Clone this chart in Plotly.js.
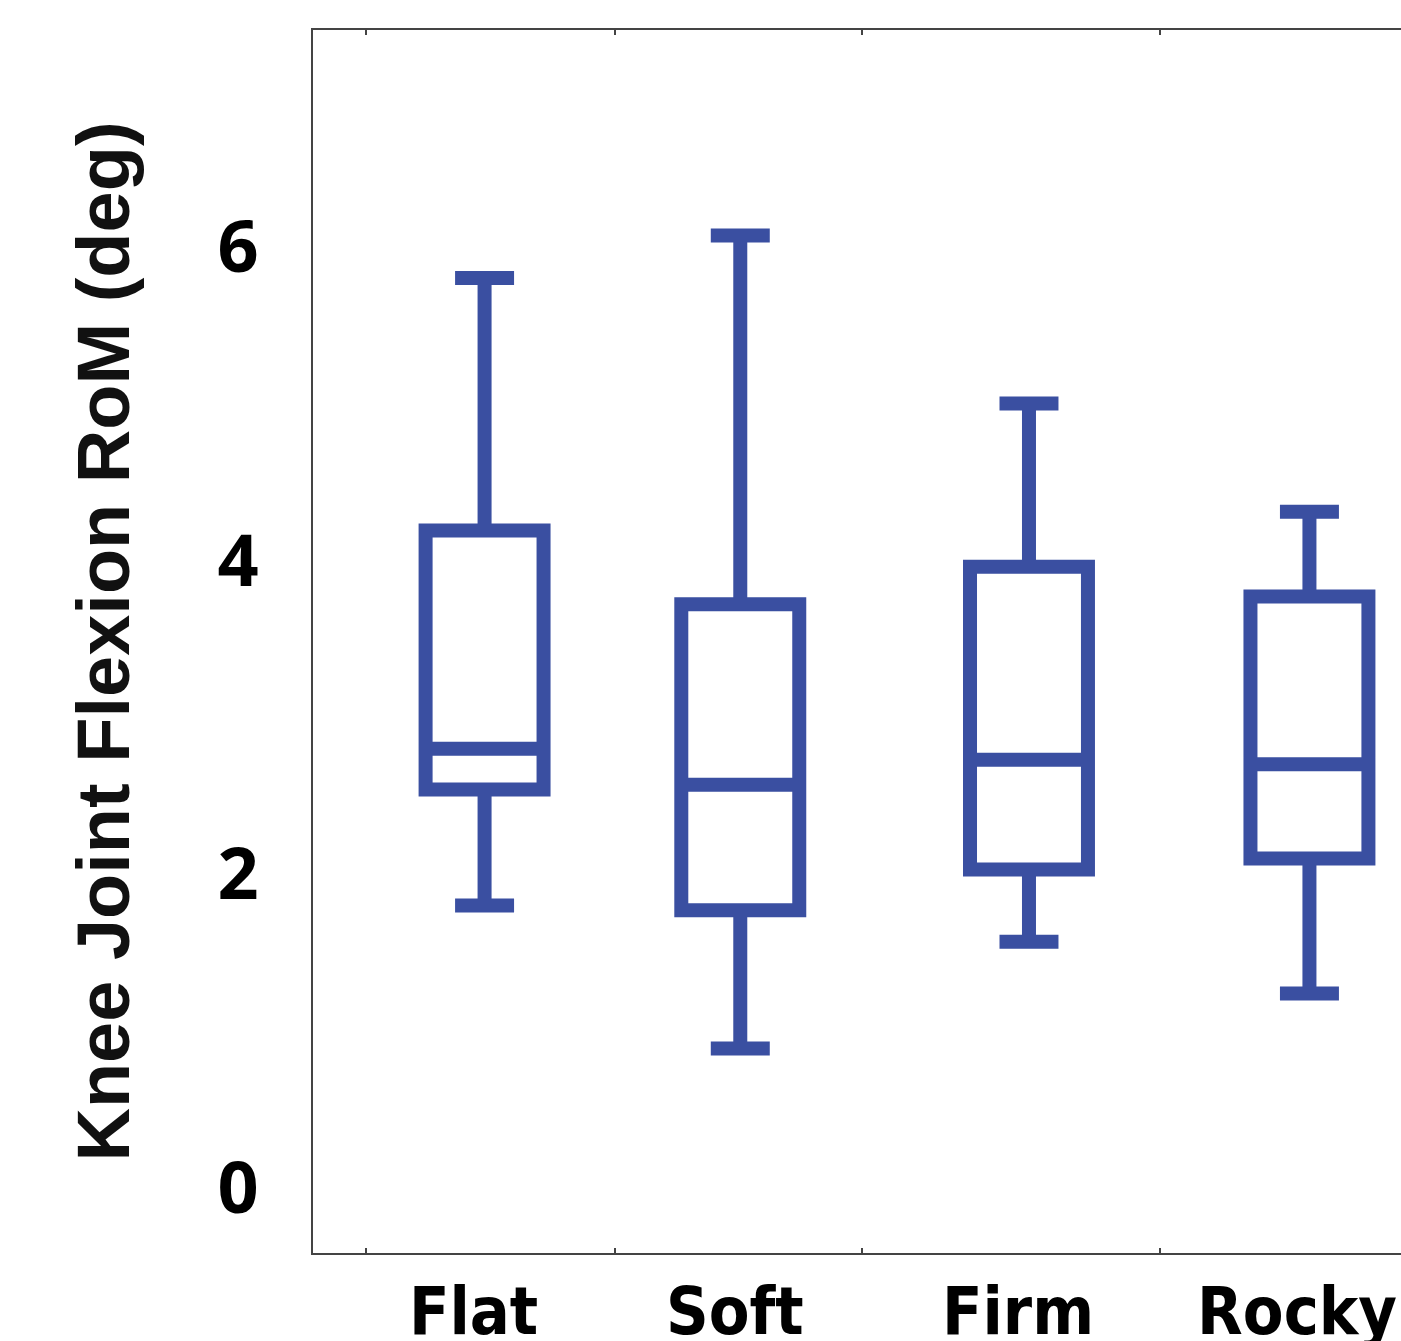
<!DOCTYPE html>
<html>
<head>
<meta charset="utf-8">
<script src="https://cdn.plot.ly/plotly-3.0.1.min.js"></script>
<style>
  html, body { margin: 0; padding: 0; background: #ffffff; overflow: hidden; }
  #chart { width: 1401px; height: 1341px; }
</style>
</head>
<body>
<div id="chart"></div>
<script>
// ---- data ----
const categories   = ['Flat', 'Soft', 'Firm', 'Rocky'];
const catPositions = [1, 1.93, 2.98, 4.0];
const upperWhisker = [5.80, 6.07, 5.00, 4.31];
const q3Values     = [4.19, 3.72, 3.96, 3.77];
const medianValues = [2.80, 2.57, 2.73, 2.70];
const q1Values     = [2.54, 1.77, 2.03, 2.10];
const lowerWhisker = [1.80, 0.89, 1.57, 1.24];
const yTickValues  = [0, 2, 4, 6];
const yTitle       = 'Knee Joint Flexion RoM (deg)';
// label and minor tick anchors along the x axis
const labelPositions = [0.96, 1.91, 2.94, 3.955];
const minorTickPositions = [0.569, 1.475, 2.373, 3.457];

const boxColor = '#3a4fa1';

const trace = {
  type: 'box',
  x: catPositions,
  q1: q1Values,
  median: medianValues,
  q3: q3Values,
  lowerfence: lowerWhisker,
  upperfence: upperWhisker,
  width: 0.429,
  whiskerwidth: 0.5,
  boxpoints: false,
  line: { color: boxColor, width: 14 },
  fillcolor: 'rgba(0,0,0,0)',
  hoverinfo: 'skip',
  showlegend: false
};

const layout = {
  width: 1401,
  height: 1341,
  margin: { l: 313, r: 0, t: 30, b: 88, pad: 0 },
  paper_bgcolor: '#ffffff',
  plot_bgcolor: '#ffffff',
  showlegend: false,
  xaxis: {
    range: [0.376, 4.333],
    showgrid: false,
    zeroline: false,
    showline: true,
    linecolor: '#444444',
    linewidth: 2,
    mirror: 'ticks',
    tickmode: 'array',
    tickvals: labelPositions,
    ticktext: categories,
    ticks: '',
    ticklabelstandoff: 0,
    ticklabeloverflow: 'allow',
    tickfont: { family: '"DejaVu Sans Condensed", "Liberation Sans Narrow", "Liberation Sans", sans-serif', size: 66, color: '#000000', weight: 700 },
    minor: {
      tickmode: 'array',
      tickvals: minorTickPositions,
      ticks: 'inside',
      ticklen: 5,
      tickwidth: 1.5,
      tickcolor: '#444444',
      showgrid: false
    },
    fixedrange: true
  },
  yaxis: {
    range: [-0.414, 7.38],
    showgrid: false,
    zeroline: false,
    showline: true,
    linecolor: '#444444',
    linewidth: 2,
    mirror: false,
    tickmode: 'array',
    tickvals: yTickValues,
    ticktext: yTickValues.map(String),
    ticks: '',
    ticklabelstandoff: 38,
    tickfont: { family: '"Open Sans", "Liberation Sans", sans-serif', size: 72, color: '#000000', weight: 700 },
    title: {
      text: yTitle,
      standoff: 64,
      font: { family: '"Liberation Sans", Arial, sans-serif', size: 74, color: '#111111', weight: 700 }
    },
    automargin: false,
    fixedrange: true
  }
};

Plotly.newPlot('chart', [trace], layout, { displayModeBar: false, staticPlot: true });
</script>
</body>
</html>
